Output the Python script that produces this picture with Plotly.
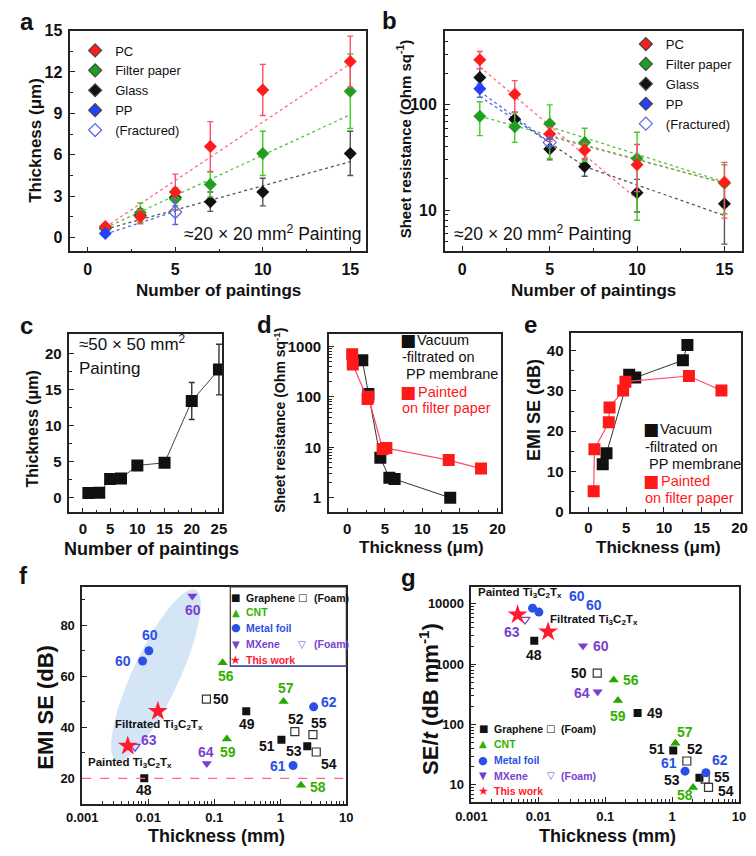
import numpy as np
import plotly.graph_objects as go

W, H = 756, 856
FONT = "Liberation Sans, Arial, sans-serif"
GLYPH = "DejaVu Sans"

# ---------------- panel a: thickness vs number of paintings ----------------
a_x = [1, 3, 5, 7, 10, 15]
a_pc = [0.8, 1.5, 3.3, 6.6, 10.7, 12.75]
a_pc_err = [0.2, 0.5, 1.3, 1.8, 1.85, 1.85]
a_fp = [0.7, 1.8, 2.8, 3.85, 6.1, 10.6]
a_fp_err = [0.15, 0.7, 0.8, 0.9, 1.6, 2.7]
a_gl = [0.65, 1.6, 2.9, 2.6, 3.3, 6.1]
a_gl_err = [0.15, 0.5, 0.6, 0.7, 1.0, 1.6]
a_pp_x = [1]
a_pp = [0.3]
a_fr_x = [5]
a_fr = [1.85]
a_fr_err = [0.9]
a_fit_x = [1, 15]
a_fit_pc = [0.75, 12.6]
a_fit_fp = [0.7, 8.9]
a_fit_gl = [0.6, 5.5]
a_fit_pp_x = [1, 5]
a_fit_pp = [0.25, 1.9]

# ---------------- panel b: sheet resistance vs number of paintings ----------------
b_x = [1, 3, 5, 7, 10, 15]
b_pc = [268, 126, 53, 37, 27, 18.4]
b_pc_up = [53, 44, 8, 6, 15, 10]
b_pc_dn = [47, 41, 8, 6, 12, 10]
b_fp = [78, 62, 66, 44, 31, 18]
b_fp_up = [29, 22, 34, 16, 24, 9]
b_fp_dn = [27, 18, 35, 15, 23, 8.8]
b_gl = [182, 73, 38, 26, 14.6, 11.5]
b_gl_up = [39, 12, 10, 4, 5, 5.4]
b_gl_dn = [31, 7, 8, 5, 5, 6.75]
b_pp_x = [1]
b_pp = [142]
b_pp_up = [16]
b_pp_dn = [24]
b_fr_x = [5]
b_fr = [44]
b_fr_err = [3]
b_fit_pc1_x, b_fit_pc1 = [1, 10], [230, 12.7]
b_fit_pc2_x, b_fit_pc2 = [5, 15], [50, 18.1]
b_fit_fp1_x, b_fit_fp1 = [1, 15], [78, 18]
b_fit_fp2_x, b_fit_fp2 = [5, 15], [62, 18.5]
b_fit_gl_x, b_fit_gl = [3, 7, 15], [73, 26, 8.85]
b_fit_pp1_x, b_fit_pp1 = [1, 5], [134, 44]
b_fit_pp2_x, b_fit_pp2 = [1, 5], [120, 44]

# ---------------- panel c: 50x50 mm2 painting ----------------
c_x = [1, 3, 5, 7, 10, 15, 20, 25]
c_y = [0.68, 0.7, 2.6, 2.7, 4.5, 4.85, 13.4, 17.75]
c_err = [0.1, 0.1, 0.2, 0.2, 0.3, 0.4, 2.55, 3.5]

# ---------------- panel d: sheet resistance vs thickness ----------------
d_vf_t = [2.0, 2.8, 4.4, 5.6, 6.3, 13.7]
d_vf_r = [533, 114, 6.2, 2.5, 2.35, 1.0]
d_pt_t = [0.65, 0.73, 2.7, 2.8, 4.7, 5.2, 13.5, 17.8]
d_pt_r = [708, 440, 91, 101, 9.3, 9.7, 5.6, 3.8]

# ---------------- panel e: EMI SE vs thickness ----------------
e_vf_t = [1.9, 2.4, 5.4, 6.2, 12.5, 13.1]
e_vf_se = [11.8, 14.5, 34.0, 33.3, 37.6, 41.4]
e_pt_t = [0.7, 0.8, 2.7, 2.8, 4.6, 4.9, 13.3, 17.6]
e_pt_se = [5.1, 15.5, 22.2, 25.9, 30.1, 32.3, 33.7, 30.1]

# ---------------- panels f, g: comparison with literature ----------------
gr_ref = ["48", "49", "51", "53"]
gr_t = [0.0087, 0.305, 1.04, 2.56]
gr_se = [20, 46.3, 35.1, 32.6]
gr_set = [2450, 156, 37, 13.1]

grf_ref = ["50", "52", "55", "54"]
grf_t = [0.076, 1.66, 3.12, 3.5]
grf_se = [51, 38.3, 37.1, 30.3]
grf_set = [714, 24.9, 12.5, 9.1]

cnt_ref = ["56", "57", "59", "58"]
cnt_t = [0.134, 1.12, 0.155, 2.06]
cnt_se = [65.3, 50.1, 35.4, 17.3]
cnt_set = [545, 49, 251, 9.1]

mf_ref = ["60", "60", "61", "62"]
mf_t = [0.0082, 0.0102, 1.56, 3.2]
mf_se = [66, 70, 25, 48]
mf_set = [8480, 7300, 16.9, 15.9]

mx_ref = ["60", "64"]
mx_t = [0.0465, 0.077]
mx_se = [91.5, 25.8]
mx_set = [2020, 351]

mxf_ref = ["63"]
mxf_t = [0.0063]
mxf_se = [32.4]
mxf_set = [5490]

tw_ref = ["Painted Ti<sub>3</sub>C<sub>2</sub>T<sub>x</sub>", "Filtrated Ti<sub>3</sub>C<sub>2</sub>T<sub>x</sub>"]
tw_t = [0.0049, 0.0140]
tw_se = [32.7, 46.3]
tw_set = [6620, 3450]

f_tick_vals = [0.001, 0.01, 0.1, 1, 10]
f_tick_text = ["0.001", "0.01", "0.1", "1", "10"]

# ---------------- styling ----------------
RED, GREEN, BLACK, BLUE = "#ff1c1c", "#1f9f1f", "#111111", "#2540ff"
RED_E, GREEN_E, BLACK_E = "#ff4d6d", "#44cc22", "#555555"
RED_L, GREEN_L, BLACK_L, BLUE_L = "#ff6a88", "#55c040", "#555555", "#5a68e0"
C_GR, C_CNT, C_MF, C_MX, C_TW = "#111111", "#33b000", "#2a50e6", "#7a3fcf", "#ff1a2e"
LINEC = "#222222"


def dom_x(l, r):
    return [l / W, r / W]


def dom_y(t, b):
    return [1 - b / H, 1 - t / H]


def base_axis(size=15, standoff=3, **kw):
    d = dict(showline=True, mirror=True, linecolor=LINEC, linewidth=1.5,
             ticks="inside", ticklen=5, tickwidth=1.3, tickcolor=LINEC,
             showgrid=False, zeroline=False, ticklabelstandoff=standoff,
             tickfont=dict(family=FONT, size=size, color="#111", weight="bold"))
    d.update(kw)
    return d


def log_minor(lo, hi):
    vals = []
    for e in range(lo, hi + 1):
        for m in range(2, 10):
            vals.append(m * 10 ** e)
    return vals


def minor_lin(dt):
    return dict(ticks="inside", ticklen=3, tickwidth=1, tickcolor=LINEC, dtick=dt)


def minor_log(lo, hi):
    return dict(ticks="inside", ticklen=3, tickwidth=1, tickcolor=LINEC,
                tickmode="array", tickvals=log_minor(lo, hi))


fig = go.Figure()


def add(xa, ya, **kw):
    kw.setdefault("showlegend", False)
    fig.add_trace(go.Scatter(xaxis=xa, yaxis=ya, **kw))


def err(arr, color, minus=None):
    d = dict(type="data", array=arr, color=color, thickness=1.4, width=3, visible=True)
    if minus is not None:
        d["arrayminus"] = minus
        d["symmetric"] = False
    return d


# ---- panel a ----
for fx, fy, col in [(a_fit_x, a_fit_pc, RED_L), (a_fit_x, a_fit_fp, GREEN_L),
                    (a_fit_x, a_fit_gl, BLACK_L), (a_fit_pp_x, a_fit_pp, BLUE_L)]:
    add("x", "y", x=fx, y=fy, mode="lines", line=dict(color=col, width=1.3, dash="dot"))
add("x", "y", x=a_x, y=a_gl, mode="markers", error_y=err(a_gl_err, BLACK_E),
    marker=dict(symbol="diamond", size=10, color=BLACK))
add("x", "y", x=a_x, y=a_fp, mode="markers", error_y=err(a_fp_err, GREEN_E),
    marker=dict(symbol="diamond", size=10, color=GREEN))
add("x", "y", x=a_x, y=a_pc, mode="markers", error_y=err(a_pc_err, RED_E),
    marker=dict(symbol="diamond", size=10, color=RED))
add("x", "y", x=a_pp_x, y=a_pp, mode="markers",
    marker=dict(symbol="diamond", size=10, color=BLUE))
add("x", "y", x=a_fr_x, y=a_fr, mode="markers", error_y=err(a_fr_err, BLUE_L),
    marker=dict(symbol="diamond-open", size=10, color=BLUE_L, line=dict(width=1.2)))
LEG = [("PC", "diamond", RED), ("Filter paper", "diamond", GREEN),
       ("Glass", "diamond", BLACK), ("PP", "diamond", BLUE),
       ("(Fractured)", "diamond-open", BLUE_L)]
for nm, sym, col in LEG:
    add("x", "y", x=[None], y=[None], mode="markers", name=nm, showlegend=True, legend="legend",
        marker=dict(symbol=sym, size=10, color=col, line=dict(width=1.2)))

# ---- panel b ----
for fx, fy, col in [(b_fit_pc1_x, b_fit_pc1, RED_L), (b_fit_pc2_x, b_fit_pc2, RED_L),
                    (b_fit_fp1_x, b_fit_fp1, GREEN_L), (b_fit_fp2_x, b_fit_fp2, GREEN_L),
                    (b_fit_gl_x, b_fit_gl, BLACK_L), (b_fit_pp1_x, b_fit_pp1, BLUE_L),
                    (b_fit_pp2_x, b_fit_pp2, BLUE_L)]:
    add("x2", "y2", x=fx, y=fy, mode="lines", line=dict(color=col, width=1.3, dash="dot"))
add("x2", "y2", x=b_x, y=b_gl, mode="markers", error_y=err(b_gl_up, BLACK_E, b_gl_dn),
    marker=dict(symbol="diamond", size=10, color=BLACK))
add("x2", "y2", x=b_x, y=b_fp, mode="markers", error_y=err(b_fp_up, GREEN_E, b_fp_dn),
    marker=dict(symbol="diamond", size=10, color=GREEN))
add("x2", "y2", x=b_x, y=b_pc, mode="markers", error_y=err(b_pc_up, RED_E, b_pc_dn),
    marker=dict(symbol="diamond", size=10, color=RED))
add("x2", "y2", x=b_pp_x, y=b_pp, mode="markers", error_y=err(b_pp_up, BLUE_L, b_pp_dn),
    marker=dict(symbol="diamond", size=10, color=BLUE))
add("x2", "y2", x=b_fr_x, y=b_fr, mode="markers", error_y=err(b_fr_err, BLUE_L),
    marker=dict(symbol="diamond-open", size=10, color=BLUE_L, line=dict(width=1.2)))
for nm, sym, col in LEG:
    add("x2", "y2", x=[None], y=[None], mode="markers", name=nm, showlegend=True, legend="legend2",
        marker=dict(symbol=sym, size=10, color=col, line=dict(width=1.2)))

# ---- panel c ----
add("x3", "y3", x=c_x, y=c_y, mode="lines+markers", error_y=err(c_err, "#333"),
    line=dict(color="#444", width=1), marker=dict(symbol="square", size=12, color=BLACK))

# ---- panel d ----
add("x4", "y4", x=d_vf_t, y=d_vf_r, mode="lines+markers",
    line=dict(color="#333", width=1), marker=dict(symbol="square", size=12, color=BLACK))
add("x4", "y4", x=d_pt_t, y=d_pt_r, mode="lines+markers",
    line=dict(color="#ff4a6a", width=1.2), marker=dict(symbol="square", size=12, color="#ff1a1a"))

# ---- panel e ----
add("x5", "y5", x=e_vf_t, y=e_vf_se, mode="lines+markers",
    line=dict(color="#333", width=1), marker=dict(symbol="square", size=12, color=BLACK))
add("x5", "y5", x=e_pt_t, y=e_pt_se, mode="lines+markers",
    line=dict(color="#ff4a6a", width=1.2), marker=dict(symbol="square", size=12, color="#ff1a1a"))

# ---- panels f and g ----
groups = [
    (gr_ref, gr_t, gr_se, gr_set, dict(symbol="square", size=8, color=C_GR), C_GR),
    (grf_ref, grf_t, grf_se, grf_set, dict(symbol="square-open", size=8, color="#333", line=dict(width=1.2)), C_GR),
    (cnt_ref, cnt_t, cnt_se, cnt_set, dict(symbol="triangle-up", size=9, color="#22a800"), C_CNT),
    (mf_ref, mf_t, mf_se, mf_set, dict(symbol="circle", size=9, color=C_MF), C_MF),
    (mx_ref, mx_t, mx_se, mx_set, dict(symbol="triangle-down", size=9, color=C_MX), C_MX),
    (mxf_ref, mxf_t, mxf_se, mxf_set, dict(symbol="triangle-down-open", size=9, color=C_MX, line=dict(width=1.2)), C_MX),
    (tw_ref, tw_t, tw_se, tw_set, dict(symbol="star", size=15, color=C_TW, line=dict(width=0)), C_TW),
]
for ref, t, se, st, mk, col in groups:
    add("x6", "y6", x=t, y=se, mode="markers", marker=mk)
    add("x7", "y7", x=t, y=st, mode="markers", marker=mk)

# label offsets (pixels) for each point label, in the group order above
f_off = [
    [(0, -12), (1, -13), (-14, -6), (-13, -5)],
    [(15, 0), (1, 13), (6, 12), (13, -12)],
    [(3, -13), (2, 14), (1, -13), (17, -2)],
    [(-20, 0), (1, 16), (-15, 0), (15, 5)],
    [(1, -14), (-1, 12)],
    [(14, 7)],
    [(2, -17), (1, -14)],
]
g_off = [
    [(0, -14), (17, 0), (-16, 2), (-27, -2)],
    [(-18, 0), (8, 12), (17, 2), (17, -4)],
    [(17, 0), (10, 11), (0, -16), (-8, -8)],
    [(44, 12), (55, 7), (-16, 8), (14, 13)],
    [(18, 0), (-16, -1)],
    [(-13, -12)],
    [(2, 22), (46, 12)],
]

ann = []


def A(text, x, y, size=15, color="#111", bold=True, xanchor="center", yanchor="middle",
      family=FONT, angle=0, xref="paper", yref="paper", xshift=0, yshift=0):
    ann.append(dict(text=text, x=x, y=y, xref=xref, yref=yref, showarrow=False,
                    xanchor=xanchor, yanchor=yanchor, textangle=angle,
                    xshift=xshift, yshift=yshift, borderpad=0,
                    font=dict(family=family, size=size, color=color,
                              weight="bold" if bold else "normal")))


def P(xp, yp, text, **kw):
    A(text, xp / W, 1 - yp / H, **kw)


for gi, (ref, t, se, st, mk, col) in enumerate(groups):
    star = gi == len(groups) - 1
    for i in range(len(ref)):
        sz = 11.5 if star else 14
        c = "#111" if star else col
        dx, dy = f_off[gi][i]
        A(ref[i], float(np.log10(t[i])), se[i], size=sz, color=c, xref="x6", yref="y6",
          xshift=dx, yshift=dy)
        dx, dy = g_off[gi][i]
        A(ref[i], float(np.log10(t[i])), float(np.log10(st[i])), size=sz, color=c,
          xref="x7", yref="y7", xshift=dx, yshift=dy)

# panel letters
for L, xp, yp in [("a", 11, 14), ("b", 385, 13), ("c", 11, 324), ("d", 256, 323),
                  ("e", 531, 323), ("f", 8, 578), ("g", 405, 580)]:
    P(xp, yp, L, size=24)

# in-plot texts
P(265, 229, "≈20 × 20 mm<sup>2</sup> Painting", size=17.5, bold=False)
P(543, 229, "≈20 × 20 mm<sup>2</sup> Painting", size=17.5, bold=False)
P(64, 341, "≈50 × 50 mm<sup>2</sup>", size=17, bold=False, xanchor="left")
P(64, 367, "Painting", size=17, bold=False, xanchor="left")

# axis titles
P(209, 288, "Number of paintings", size=17)
P(20, 135, "Thickness (μm)", size=17, angle=-90)
P(596, 288, "Number of paintings", size=17)
P(400, 133, "Sheet resistance (Ohm sq<sup>-1</sup>)", size=15, angle=-90)
P(140, 551, "Number of paintings", size=18)
P(17, 429, "Thickness (μm)", size=16, angle=-90)
P(418, 550, "Thickness (μm)", size=17)
P(272, 420, "Sheet resistance (Ohm sq<sup>-1</sup>)", size=14, angle=-90)
P(663, 550, "Thickness (μm)", size=17)
P(535, 410, "EMI SE (dB)", size=18, angle=-90)
P(207, 844, "Thickness (mm)", size=18)
P(31, 713, "EMI SE (dB)", size=22, angle=-90)
P(610, 844, "Thickness (mm)", size=18)
P(426, 704, "SE/<i>t</i> (dB mm<sup>-1</sup>)", size=22, angle=-90)

# legends d and e
for ox, oy in [(0, 0), (250.5, 91.5)]:
    P(404 + ox, 338 + oy, "■", size=17, family=GLYPH, bold=False)
    P(413 + ox, 338 + oy, "Vacuum", size=14.5, bold=False, xanchor="left")
    P(397 + ox, 356 + oy, "-filtrated on", size=14.5, bold=False, xanchor="left")
    P(401 + ox, 373 + oy, "PP membrane", size=14.5, bold=False, xanchor="left")
    P(404 + ox, 391 + oy, "■", size=17, family=GLYPH, bold=False, color="#ff1a1a")
    P(414 + ox, 391 + oy, "Painted", size=14.5, bold=False, xanchor="left", color="#ff1a1a")
    P(397 + ox, 408 + oy, "on filter paper", size=14.5, bold=False, xanchor="left", color="#ff1a1a")

# legends f and g
leg_rows = [("■", "Graphene", C_GR, "□", "(Foam)"), ("▲", "CNT", C_CNT, None, None),
            ("●", "Metal foil", C_MF, None, None), ("▼", "MXene", C_MX, "▽", "(Foam)"),
            ("★", "This work", C_TW, None, None)]
for (sx, tx, fsx, ftx, ys) in [(226.5, 236.5, 295, 306, [601, 616, 631.7, 648.3, 664.3]),
                              (482, 491.5, 551.5, 561, [734.3, 750, 766.7, 782.3, 798.3])]:
    for (g, txt, col, fg, ft), yv in zip(leg_rows, ys):
        gs = {"■": 10, "▲": 10, "●": 11, "▼": 10, "★": 12}[g]
        P(sx, yv, g, size=gs, family=GLYPH, bold=False, color=col)
        P(tx, yv, txt, size=10.5, color=col, xanchor="left")
        if fg:
            P(fsx, yv, fg, size=10, family=GLYPH, bold=False, color=col)
            P(ftx, yv, ft, size=10.5, color=col, xanchor="left")

# shapes: ellipse, dashed line, legend box
cx, cy, ra, rb, th = 144.3, 680.0, 96.0, 24.0, np.deg2rad(64.8)
tt = np.linspace(0, 2 * np.pi, 73)
ex = cx + ra * np.cos(tt) * np.cos(th) + rb * np.sin(tt) * np.sin(th)
ey = cy - ra * np.cos(tt) * np.sin(th) + rb * np.sin(tt) * np.cos(th)
path = "M " + " L ".join(f"{a / W:.5f},{1 - b / H:.5f}" for a, b in zip(ex, ey)) + " Z"
shapes = [
    dict(type="path", path=path, xref="paper", yref="paper", fillcolor="#d4e6f6",
         line=dict(width=0), layer="below"),
    dict(type="line", xref="x6 domain", yref="y6", x0=0, x1=1, y0=20, y1=20,
         line=dict(color="#ff6688", width=1.3, dash="dash")),
    dict(type="rect", xref="paper", yref="paper", x0=221 / W, x1=340.7 / W,
         y0=1 - 670.7 / H, y1=1 - 590 / H, line=dict(color="#333", width=1.2)),
    dict(type="line", xref="paper", yref="paper", x0=221 / W, x1=340.7 / W,
         y0=1 - 670.7 / H, y1=1 - 670.7 / H, line=dict(color="#3a4fd0", width=1.2)),
]

leg_common = dict(xanchor="left", yanchor="top", bgcolor="rgba(0,0,0,0)", borderwidth=0,
                  tracegroupgap=0, font=dict(family=FONT, size=13, color="#111"))

fig.update_layout(
    width=W, height=H, margin=dict(l=0, r=0, t=0, b=0),
    paper_bgcolor="white", plot_bgcolor="white",
    showlegend=True,
    legend=dict(x=61 / W, y=1 - 28 / H, **leg_common),
    legend2=dict(x=629 / W, y=1 - 21.5 / H, **leg_common),
    xaxis=base_axis(16, domain=dom_x(56, 361), range=[-1, 15.9], tick0=0, dtick=5,
                    minor=minor_lin(2.5), anchor="y"),
    yaxis=base_axis(16, domain=dom_y(23, 248), range=[-1, 15], tick0=0, dtick=3,
                    minor=minor_lin(1.5), anchor="x"),
    xaxis2=base_axis(16, domain=dom_x(442.3, 748.7), range=[-1, 16], tick0=0, dtick=5,
                     minor=minor_lin(2.5), anchor="y2"),
    yaxis2=base_axis(16, domain=dom_y(23.3, 247.7), type="log", range=[0.611, 2.703],
                     tickmode="array", tickvals=[10, 100], ticktext=["10", "100"],
                     minor=minor_log(0, 2), anchor="x2"),
    xaxis3=base_axis(15, standoff=2, domain=dom_x(55, 212.7), range=[-2.5, 25.6], tick0=0, dtick=5,
                     minor=minor_lin(2.5), anchor="y3"),
    yaxis3=base_axis(15, domain=dom_y(332.7, 514), range=[-2, 22.6], tick0=0, dtick=5,
                     minor=minor_lin(2.5), anchor="x3"),
    xaxis4=base_axis(15, standoff=2, domain=dom_x(322.7, 500), range=[-2.45, 20.43], tick0=0, dtick=5,
                     minor=minor_lin(2.5), anchor="y4"),
    yaxis4=base_axis(15, domain=dom_y(332.7, 514), type="log", range=[-0.29, 3.24],
                     tickmode="array", tickvals=[1, 10, 100, 1000],
                     ticktext=["1", "10", "100", "1000"], minor=minor_log(0, 3), anchor="x4"),
    xaxis5=base_axis(15, standoff=2, domain=dom_x(572.7, 747.3), range=[-2.26, 20.13], tick0=0, dtick=5,
                     minor=minor_lin(2.5), anchor="y5"),
    yaxis5=base_axis(15, domain=dom_y(330.7, 513.3), range=[0, 44.5], tick0=0, dtick=10,
                     minor=minor_lin(5), anchor="x5"),
    xaxis6=base_axis(13, standoff=1, domain=dom_x(68.3, 340.7), type="log", range=[-3, 1],
                     tickmode="array", tickvals=f_tick_vals, ticktext=f_tick_text,
                     minor=minor_log(-3, 0), anchor="y6"),
    yaxis6=base_axis(13, domain=dom_y(590, 810.7), range=[10.1, 95], tick0=0, dtick=20,
                     minor=minor_lin(10), anchor="x6"),
    xaxis7=base_axis(13, standoff=1, domain=dom_x(469.7, 745.7), type="log", range=[-3, 1],
                     tickmode="array", tickvals=f_tick_vals, ticktext=f_tick_text,
                     minor=minor_log(-3, 0), anchor="y7"),
    yaxis7=base_axis(13, domain=dom_y(590, 809.3), type="log", range=[0.714, 4.28],
                     tickmode="array", tickvals=[10, 100, 1000, 10000],
                     ticktext=["10", "100", "1000", "10000"], minor=minor_log(0, 4), anchor="x7"),
    annotations=ann,
    shapes=shapes,
)

fig.write_html("out.html")
